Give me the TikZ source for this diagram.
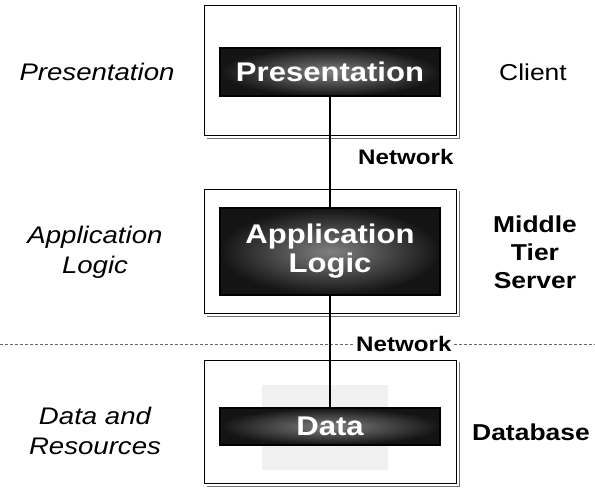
\documentclass[tikz,border=0pt]{standalone}
\usepackage{fontspec}
\setmainfont{Liberation Sans}
\newfontfamily\widefont[FakeStretch=1.15]{Liberation Sans}
\begin{document}
\begin{tikzpicture}[x=1pt,y=-1pt,
  tierbox/.style={draw=black,line width=0.9pt,fill=white,minimum width=252pt,inner sep=0pt},
  shadowline/.style={draw=black!55,line width=1.2pt},
  layerbox/.style={draw=black,line width=1.6pt,inner color=black!50,outer color=black!92,
    minimum width=220pt,inner sep=0pt,text=white,align=center,
    font=\widefont\bfseries\fontsize{27}{29}\selectfont},
  leftlab/.style={align=center,font=\widefont\itshape\fontsize{24}{30}\selectfont},
  rightlab/.style={align=center,font=\widefont\fontsize{23}{28}\selectfont},
  netlab/.style={anchor=west,fill=white,inner sep=2pt,font=\widefont\bfseries\fontsize{21}{24}\selectfont},
  link/.style={draw=black,line width=1.3pt},
  sep/.style={draw=black!60,line width=0.7pt,dash pattern=on 3pt off 2pt}]
\useasboundingbox (0,0) rectangle (595,493);

% tier boxes with shadow
\node[tierbox,minimum height=130pt] (client) at (330,70) {};
\node[tierbox,minimum height=124pt] (middle) at (330,251) {};
\node[tierbox,minimum height=123pt] (dbbox) at (330,421.5) {};
\foreach \b in {client,middle,dbbox}{
  \draw[shadowline] ([xshift=3pt,yshift=-2pt]\b.north east) -- ([xshift=3pt,yshift=-3pt]\b.south east) -- ([xshift=3pt,yshift=-3pt]\b.south west);
}

% faint texture around data
\fill[black!6] (262,385) rectangle (388,470);

% separator and network labels
\node[netlab] (net1) at (356,157) {Network};
\coordinate (sepL) at (0,344);
\coordinate (sepR) at (595,344);
\node[netlab] (net2) at (354,344) {Network};
\draw[sep] (sepL) -- (net2.west);
\draw[sep] (net2.east) -- (sepR);

% layer boxes
\node[layerbox,minimum height=48pt] (pres) at (330,72) {Presentation};
\node[layerbox,minimum height=87pt] (app) at (330,251.5) {Application\\Logic};
\node[layerbox,minimum height=37pt] (data) at (330,426.5) {Data};

% connectors
\draw[link] (pres.south) -- (app.north);
\draw[link] (app.south) -- (data.north);

% left labels
\node[leftlab] (lpres) at (97,72) {Presentation};
\node[leftlab] (lapp) at (95,252) {Application\\Logic};
\node[leftlab] (ldata) at (95,431) {Data and\\Resources};

% right labels
\node[rightlab] (rclient) at (533,72) {Client};
\node[rightlab,font=\widefont\bfseries\fontsize{23}{28}\selectfont] (rmid) at (535,252) {Middle\\Tier\\Server};
\node[rightlab,font=\widefont\bfseries\fontsize{23}{28}\selectfont] (rdb) at (531,432) {Database};
\end{tikzpicture}
\end{document}
